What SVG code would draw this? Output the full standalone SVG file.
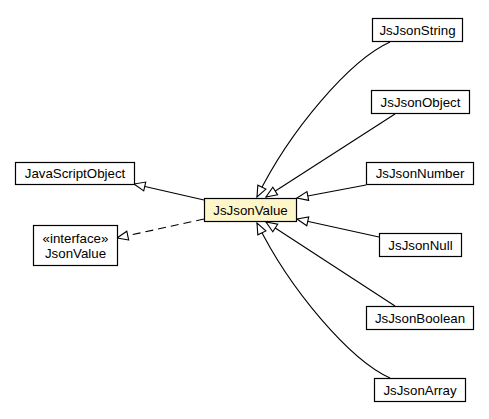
<svg xmlns="http://www.w3.org/2000/svg" width="489" height="419" viewBox="0 0 489 419">
<style>
.box{fill:#ffffff;stroke:#000000;stroke-width:1.2}
.main{fill:#fdf6c9;stroke:#000000;stroke-width:1.2}
.lbl{font-family:"Liberation Sans",Arial,Helvetica,sans-serif;font-size:13.3px;fill:#000000;text-anchor:middle}
.edge{fill:none;stroke:#000000;stroke-width:1.1}
.dash{stroke-dasharray:8,5}
</style>
<defs>
<marker id="tri" markerUnits="userSpaceOnUse" markerWidth="14" markerHeight="12" viewBox="-1 -1 14 12" refX="11" refY="4.5" orient="auto">
<path d="M0,0 L11,4.5 L0,9 Z" fill="#ffffff" stroke="#000000" stroke-width="1.1"/>
</marker>
</defs>
<g id="connectors">
<path class="edge" d="M204,200 L134,184" marker-end="url(#tri)"/>
<path class="edge dash" d="M204,219 L117,238" marker-end="url(#tri)"/>
<path class="edge" d="M390,42 C350,60 290,130 257,197" marker-end="url(#tri)"/>
<path class="edge" d="M395,114 L266,197" marker-end="url(#tri)"/>
<path class="edge" d="M366,185 L297,198" marker-end="url(#tri)"/>
<path class="edge" d="M379,237 L297,219" marker-end="url(#tri)"/>
<path class="edge" d="M395,306 L266,222" marker-end="url(#tri)"/>
<path class="edge" d="M390,378 C350,360 290,290 257,223" marker-end="url(#tri)"/>
</g>
<g id="JavaScriptObject">
<rect class="box" x="15.5" y="162.5" width="119" height="22"/>
<text class="lbl" x="75" y="178">JavaScriptObject</text>
</g>
<g id="JsonValue">
<rect class="box" x="33.5" y="225.5" width="84" height="40"/>
<text class="lbl" x="75.5" y="243">«interface»</text>
<text class="lbl" x="75.5" y="258">JsonValue</text>
</g>
<g id="JsJsonValue">
<rect class="main" x="204.5" y="198.5" width="92" height="23"/>
<text class="lbl" x="250.5" y="214.5">JsJsonValue</text>
</g>
<g id="JsJsonString">
<rect class="box" x="372.5" y="18.5" width="90" height="23"/>
<text class="lbl" x="417.5" y="34.5">JsJsonString</text>
</g>
<g id="JsJsonObject">
<rect class="box" x="371.5" y="90.5" width="98" height="23"/>
<text class="lbl" x="420.5" y="106.5">JsJsonObject</text>
</g>
<g id="JsJsonNumber">
<rect class="box" x="366.5" y="162.5" width="107" height="22"/>
<text class="lbl" x="420" y="178">JsJsonNumber</text>
</g>
<g id="JsJsonNull">
<rect class="box" x="379.5" y="233.5" width="82" height="23"/>
<text class="lbl" x="420.5" y="249.5">JsJsonNull</text>
</g>
<g id="JsJsonBoolean">
<rect class="box" x="366.5" y="306.5" width="107" height="23"/>
<text class="lbl" x="420" y="322.5">JsJsonBoolean</text>
</g>
<g id="JsJsonArray">
<rect class="box" x="374.5" y="378.5" width="91" height="23"/>
<text class="lbl" x="420" y="394.5">JsJsonArray</text>
</g>
</svg>
